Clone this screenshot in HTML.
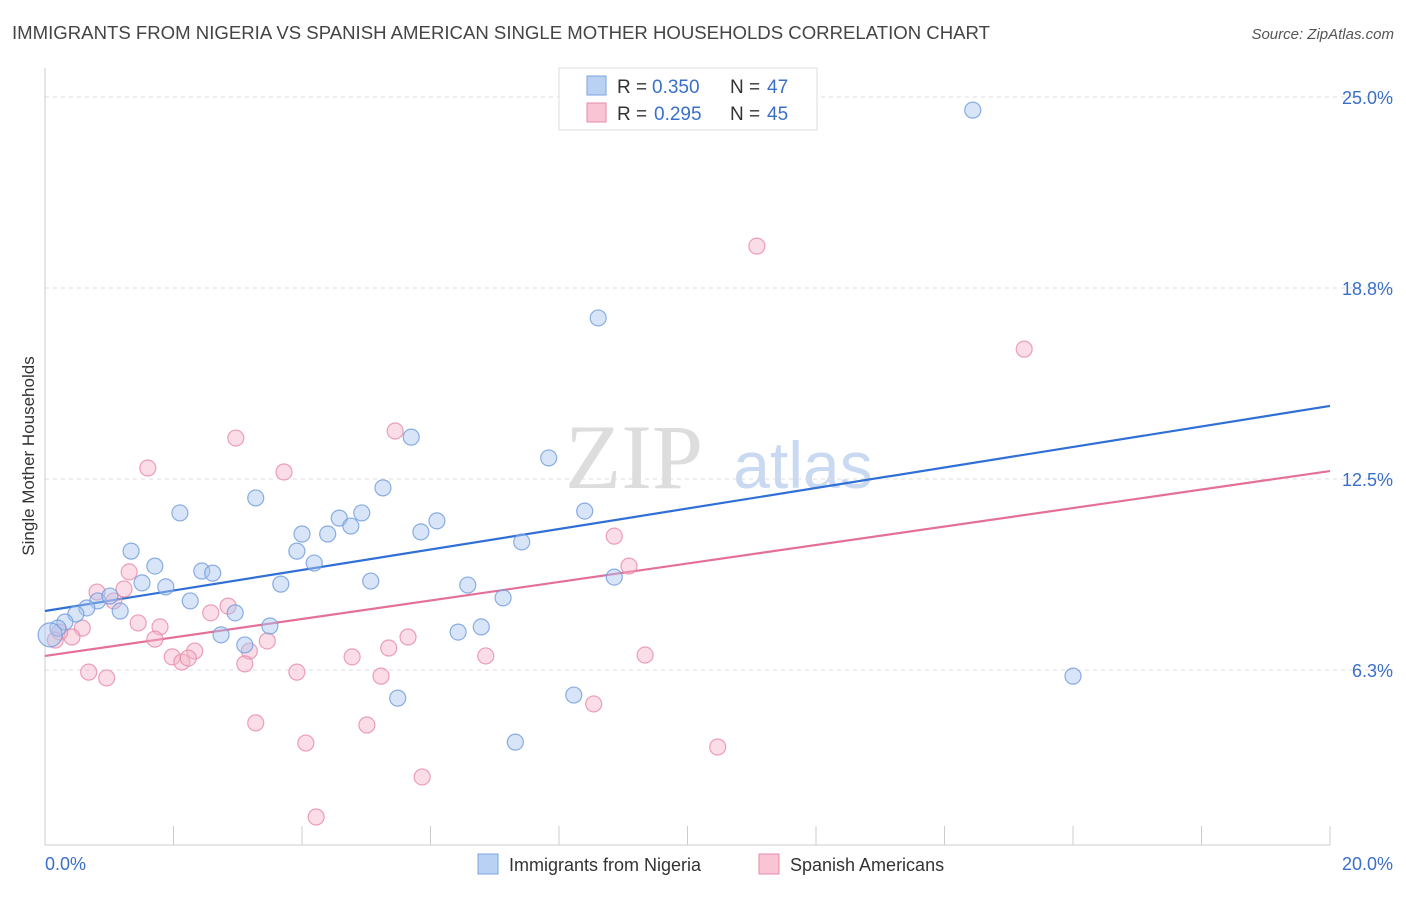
<!DOCTYPE html>
<html><head><meta charset="utf-8"><style>
body{margin:0;background:#fff;font-family:"Liberation Sans",sans-serif;}
svg text{font-family:"Liberation Sans",sans-serif;}
</style></head><body>
<svg id="chart" width="1406" height="892" viewBox="0 0 1406 892" xmlns="http://www.w3.org/2000/svg">
<text x="12" y="39" font-size="18" fill="#444" textLength="978" lengthAdjust="spacingAndGlyphs">IMMIGRANTS FROM NIGERIA VS SPANISH AMERICAN SINGLE MOTHER HOUSEHOLDS CORRELATION CHART</text>
<text x="1394" y="39" font-size="15" fill="#555" text-anchor="end" font-style="italic">Source: ZipAtlas.com</text>
<g>
<text x="634" y="488" font-size="92" fill="#ddd" text-anchor="middle" font-family="Liberation Serif" style="font-family:'Liberation Serif',serif">ZIP</text>
<text x="803" y="488" font-size="66" fill="#c9d9f1" text-anchor="middle">atlas</text>
</g>
<g id="grid"></g>
<g id="axes"></g>
<g id="lines"></g>
<g id="pts"></g>
<text transform="translate(34,456) rotate(-90)" font-size="17" fill="#333" text-anchor="middle">Single Mother Households</text>
<g>
<rect x="559" y="68" width="258" height="62" fill="#fff" stroke="#ddd"/>
<rect x="587" y="76" width="19" height="19" fill="#b9d1f3" stroke="#7aa3e0"/>
<rect x="587" y="103" width="19" height="19" fill="#f9c5d5" stroke="#e88aa8"/>
<text x="617" y="93" font-size="19" fill="#333">R =</text>
<text x="652" y="93" font-size="19" fill="#3a6fc9">0.350</text>
<text x="730" y="93" font-size="19" fill="#333">N =</text>
<text x="767" y="93" font-size="19" fill="#3a6fc9">47</text>
<text x="617" y="120" font-size="19" fill="#333">R =</text>
<text x="654" y="120" font-size="19" fill="#3a6fc9">0.295</text>
<text x="730" y="120" font-size="19" fill="#333">N =</text>
<text x="767" y="120" font-size="19" fill="#3a6fc9">45</text>
</g>
<g>
<rect x="478" y="854" width="20" height="20" fill="#b9d1f3" stroke="#7aa3e0"/>
<text x="509" y="871" font-size="18" fill="#333">Immigrants from Nigeria</text>
<rect x="759" y="854" width="20" height="20" fill="#f9c5d5" stroke="#e88aa8"/>
<text x="790" y="871" font-size="18" fill="#333">Spanish Americans</text>
</g>
</svg>
<script>
const blueX=[14.44,8.61,5.70,7.84,3.28,5.26,2.10,4.93,4.58,4.76,6.10,8.40,4.00,4.40,5.85,7.42,1.34,3.92,4.19,1.71,2.44,2.61,1.51,1.88,3.67,5.07,6.58,8.86,2.26,0.82,1.01,1.17,0.65,0.48,2.96,7.13,0.31,0.20,3.50,2.74,6.79,6.43,3.11,16.00,8.23,5.49,7.32,0.08];
const blueY=[24.57,17.77,13.87,13.19,11.88,12.21,11.39,11.39,11.22,10.96,11.13,11.45,10.70,10.70,10.77,10.44,10.14,10.14,9.75,9.65,9.49,9.42,9.10,8.97,9.06,9.16,9.03,9.29,8.51,8.51,8.67,8.18,8.28,8.08,8.12,8.61,7.82,7.62,7.69,7.40,7.66,7.49,7.07,6.05,5.43,5.33,3.89,7.40];
const pinkX=[11.08,15.24,5.45,2.97,1.60,3.72,8.86,9.09,1.31,0.81,1.23,1.07,2.85,2.58,1.79,1.45,0.58,1.71,3.46,5.65,0.42,5.35,2.33,3.18,1.98,2.13,2.23,4.78,6.86,9.34,3.11,3.92,0.68,0.96,5.23,8.54,3.28,5.01,4.06,10.47,5.87,4.22,0.23,0.16];
const pinkY=[20.12,16.75,14.07,13.84,12.86,12.73,10.63,9.65,9.46,8.80,8.90,8.51,8.34,8.12,7.66,7.79,7.62,7.26,7.20,7.33,7.33,6.97,6.87,6.87,6.68,6.51,6.64,6.68,6.71,6.74,6.45,6.18,6.18,5.99,6.05,5.14,4.52,4.45,3.86,3.73,2.75,1.44,7.49,7.23];
const blueTrend=[8.18,14.89];
const pinkTrend=[6.71,12.76];
const yTicks=[25.0,18.75,12.5,6.25];
const yTickLabels=["25.0%","18.8%","12.5%","6.3%"];
const xTickVals=[0,2,4,6,8,10,12,14,16,18,20];
const xLabels=["0.0%","20.0%"];

const NS="http://www.w3.org/2000/svg";
const X=v=>45+v*64.25, Y=v=>861-v*30.56;
function mk(tag,attrs,parent){const e=document.createElementNS(NS,tag);for(const k in attrs)e.setAttribute(k,attrs[k]);parent.appendChild(e);return e;}
const grid=document.getElementById('grid'),axes=document.getElementById('axes'),lines=document.getElementById('lines'),pts=document.getElementById('pts');
yTicks.forEach((t,i)=>{
 const l=mk('line',{x1:45,x2:1393,y1:Y(t),y2:Y(t),stroke:'#ddd','stroke-dasharray':'4,4'},grid);
 
 
 const tx=mk('text',{x:1393,y:Y(t)+7,'font-size':18,fill:'#3a6fc9','text-anchor':'end'},axes);
 tx.textContent=yTickLabels[i];
 
 
});
mk('line',{x1:45,x2:45,y1:68,y2:845,stroke:'#ccc'},axes);
mk('line',{x1:45,x2:1330,y1:845,y2:845,stroke:'#ccc'},axes);
xTickVals.forEach(v=>{
 const t=mk('line',{x1:X(v),x2:X(v),y1:826,y2:845,stroke:'#ccc'},axes);
 
 
});
let a=mk('text',{x:45,y:870,'font-size':18,fill:'#3a6fc9'},axes);a.textContent=xLabels[0];


a=mk('text',{x:1393,y:870,'font-size':18,fill:'#3a6fc9','text-anchor':'end'},axes);a.textContent=xLabels[1];



function series(xs,ys,fill,stroke,name){
 xs.forEach((x,i)=>{
  const c=mk('circle',{cx:X(x),cy:Y(ys[i]),r:(x<0.1?12:8),fill:fill,'fill-opacity':0.45,stroke:stroke,'stroke-width':1.2,'stroke-opacity':0.8},pts);
  
  
 });
}
series(pinkX,pinkY,'#f4b4c8','#e88aa8','spanish-american-point');
series(blueX,blueY,'#a9c6ef','#6f9bdc','nigeria-point');
let l=mk('line',{x1:X(0),x2:X(20),y1:Y(blueTrend[0]),y2:Y(blueTrend[1]),stroke:'#2f6fd6','stroke-width':2.2},lines);


l=mk('line',{x1:X(0),x2:X(20),y1:Y(pinkTrend[0]),y2:Y(pinkTrend[1]),stroke:'#e4709a','stroke-width':2.2},lines);


</script>
</body></html>
